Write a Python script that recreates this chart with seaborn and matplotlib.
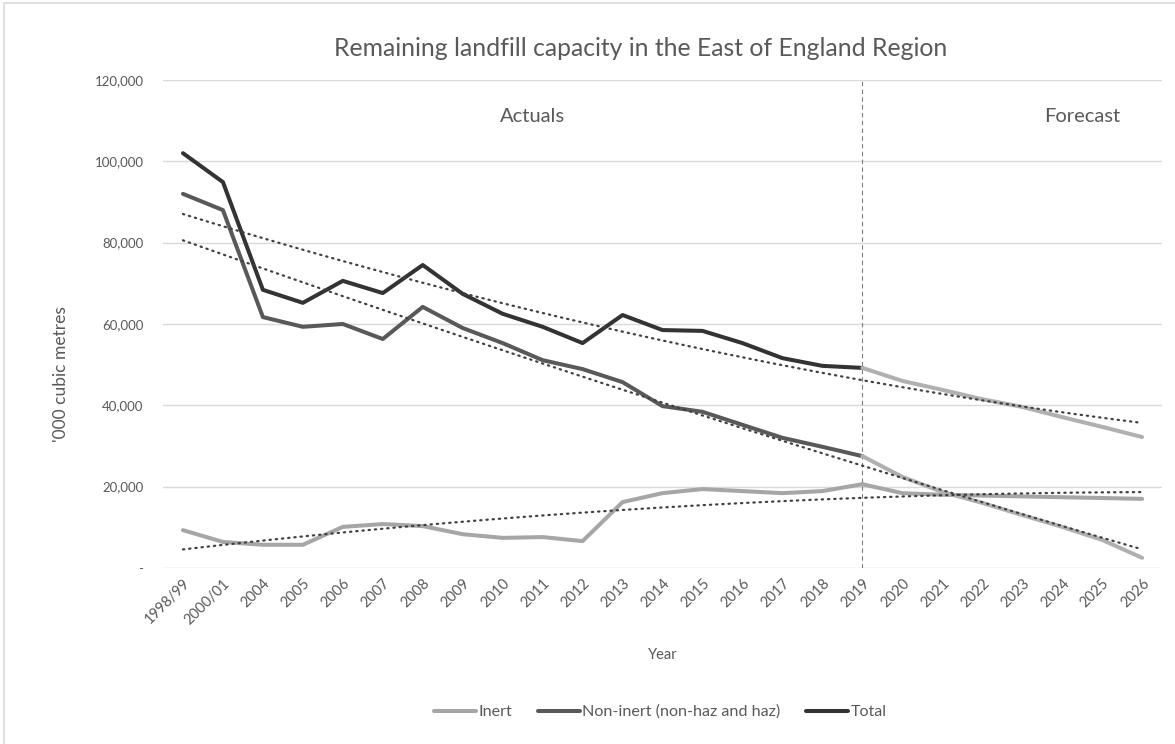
import numpy as np
import pandas as pd
import seaborn as sns
import matplotlib.pyplot as plt
from matplotlib.patches import Rectangle
from matplotlib.ticker import FuncFormatter

# data ('000 cubic metres)
years = ["1998/99", "2000/01", "2004", "2005", "2006", "2007", "2008", "2009",
         "2010", "2011", "2012", "2013", "2014", "2015", "2016", "2017", "2018",
         "2019", "2020", "2021", "2022", "2023", "2024", "2025", "2026"]
inert = [9.3, 6.4, 5.7, 5.7, 10.1, 10.8, 10.3, 8.3, 7.4, 7.6, 6.6, 16.2, 18.4,
         19.4, 18.9, 18.4, 18.9, 20.6, 18.4, 18.0, 17.8, 17.6, 17.4, 17.2, 17.0]
non_inert = [92.0, 88.0, 61.7, 59.3, 60.0, 56.3, 64.2, 59.0, 55.3, 51.1, 48.9,
             45.7, 39.8, 38.4, 35.2, 32.0, 29.8, 27.5, 22.4, 18.7, 16.0, 13.0,
             10.1, 6.9, 2.5]
total = [102.0, 94.9, 68.4, 65.2, 70.6, 67.6, 74.5, 67.4, 62.5, 59.3, 55.3,
         62.2, 58.5, 58.3, 55.3, 51.6, 49.7, 49.2, 46.0, 43.8, 41.5, 39.6,
         37.1, 34.7, 32.2]
last_actual = "2019"

df = pd.DataFrame({
    "pos": np.arange(len(years)),
    "year": years,
    "Inert": np.array(inert) * 1000,
    "Non-inert (non-haz and haz)": np.array(non_inert) * 1000,
    "Total": np.array(total) * 1000,
})
split = years.index(last_actual)
actual = df[df["pos"] <= split]
forecast = df[df["pos"] >= split]

series_colors = {"Inert": "#a6a6a6", "Non-inert (non-haz and haz)": "#595959",
                 "Total": "#333333"}
forecast_color = "#b0b0b0"
text_color = "#595959"

sns.set_theme(style="white")
plt.rcParams["font.family"] = ["Lato", "DejaVu Sans"]

fig = plt.figure(figsize=(11.75, 7.44), dpi=100)
ax = fig.add_axes([0.1387, 0.2366, 0.8503, 0.6559])

lw = 2.9
for name, col in series_colors.items():
    sns.lineplot(data=actual, x="pos", y=name, ax=ax, color=col, lw=lw,
                 label=name, solid_capstyle="round", zorder=3)
    fc = col if name == "Inert" else forecast_color
    sns.lineplot(data=forecast, x="pos", y=name, ax=ax, color=fc, lw=lw,
                 solid_capstyle="round", zorder=3)

# polynomial (order 2) trendlines over the whole series, as in the source
for name in series_colors:
    sns.regplot(data=df, x="pos", y=name, ax=ax, order=2, ci=None,
                scatter=False, truncate=True,
                line_kws=dict(color="#404040", lw=1.6, linestyle=(0, (0.6, 2.2)),
                              dash_capstyle="round", zorder=4))

ax.axvline(split, color="#7f7f7f", lw=0.8, ls=(0, (4, 3)), zorder=2)
ax.text(8.75, 111000, "Actuals", ha="center", va="center", fontsize=14.5,
        color=text_color)
ax.text(22.5, 111000, "Forecast", ha="center", va="center", fontsize=14.5,
        color=text_color)

ax.set_xlim(-0.5, 24.5)
ax.set_ylim(0, 120000)
ax.set_yticks(np.arange(0, 120001, 20000))
ax.yaxis.set_major_formatter(FuncFormatter(lambda v, p: "-" if v == 0 else f"{v:,.0f}"))
ax.set_xticks(df["pos"])
ax.set_xticklabels(years, rotation=45, ha="right", rotation_mode="anchor")
ax.tick_params(axis="y", length=0, labelsize=9.5, labelcolor=text_color, pad=14)
ax.tick_params(axis="x", length=0, labelsize=10.5, labelcolor=text_color, pad=6)
ax.grid(axis="y", color="#d9d9d9", lw=1)
for s in ax.spines.values():
    s.set_visible(False)

ax.set_xlabel("Year", fontsize=10.5, color=text_color)
ax.xaxis.set_label_coords(0.5, -0.165)
ax.set_ylabel("'000 cubic metres", fontsize=12.5, color=text_color)
ax.yaxis.set_label_coords(-0.094, 0.397)
ax.legend_.remove()

fig.suptitle("Remaining landfill capacity in the East of England Region",
             x=0.545, y=0.95, fontsize=17.8, color=text_color)

handles, labels = ax.get_legend_handles_labels()
fig.legend(handles, labels, loc="center", bbox_to_anchor=(0.562, 0.043),
           ncol=3, frameon=False, fontsize=11.6, handlelength=2.6,
           handletextpad=0.15, columnspacing=1.6, labelcolor=text_color)

fig.patches.append(Rectangle((0.003, -0.1), 1.2, 1.096, transform=fig.transFigure,
                             fill=False, ec="#d9d9d9", lw=1.2))

fig.savefig("out.png", dpi=100)
